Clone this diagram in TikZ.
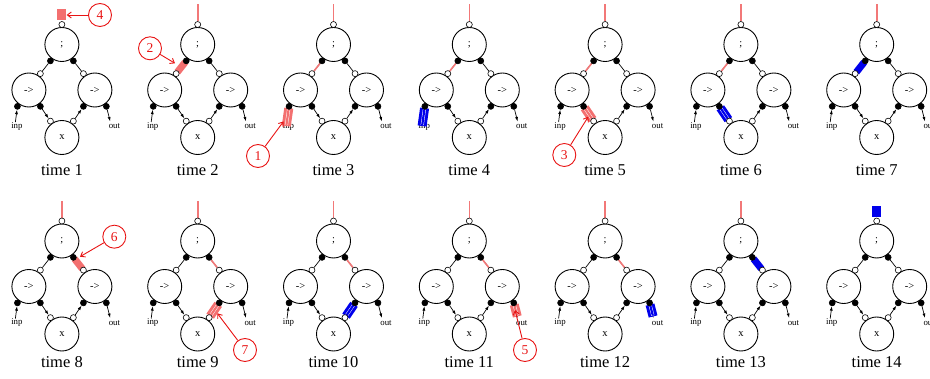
\documentclass[tikz,border=0pt]{standalone}
\usepackage{fontspec}
\setmainfont{Liberation Serif}
\usetikzlibrary{arrows.meta,calc}
\pgfdeclarelayer{front}
\pgfsetlayers{main,front}
\definecolor{tokred}{RGB}{243,112,112}
\definecolor{edgered}{RGB}{242,120,120}
\definecolor{callred}{RGB}{232,20,20}
\definecolor{tokblue}{RGB}{0,0,235}
\newcommand\tokstripe[3]{%
  \draw[#1,line width=9pt,shorten <=-1.5pt,shorten >=-1.5pt] (#2) -- (#3);
  \draw[white,line width=0.45pt,double=#1,double distance=2.2pt,shorten <=-0.5pt,shorten >=-0.5pt] (#2) -- (#3);
}
\newcommand\timey{126}
\tikzset{
  bignode/.style={circle,draw,line width=0.9pt,minimum size=34pt,inner sep=0pt,font=\fontsize{10.5}{11}\selectfont},
  wport/.style={circle,draw,line width=0.6pt,fill=white,minimum size=6pt,inner sep=0pt},
  bport/.style={circle,draw,line width=0.6pt,fill=black,minimum size=6pt,inner sep=0pt},
  wire/.style={line width=0.7pt},
  arr/.style={line width=0.7pt,-{Latex[length=4.5pt,width=3pt]}},
  redwire/.style={edgered,line width=1.6pt},
  lab/.style={inner sep=0pt,font=\fontsize{8.8}{9}\selectfont},
  timelab/.style={inner sep=0pt,font=\fontsize{16.5}{18}\selectfont},
  plaintok/.style={line width=7pt,shorten <=-1.5pt,shorten >=-1.5pt},
  sqtok/.style={minimum width=9pt,minimum height=11pt,inner sep=0pt},
  callout/.style={circle,draw=callred,text=callred,line width=0.9pt,minimum size=23pt,inner sep=0pt,font=\fontsize{13.5}{14}\selectfont},
  callarrow/.style={callred,line width=0.9pt,-{Straight Barb[length=4pt,width=6pt]}},
  graph/.pic={
    \begin{pgfonlayer}{front}
    \node[bignode] (T) at (0,0) {;};
    \node[bignode] (L) at (-33,45.5) {->};
    \node[bignode] (R) at (33,45.5) {->};
    \node[bignode] (X) at (0,93) {x};
    \node[wport] (Tt) at (0,-20) {};
    \node[bport] (Tbl) at (-11.47,16.38) {};
    \node[bport] (Tbr) at (11.47,16.38) {};
    \node[wport] (Ltr) at (-21.53,29.12) {};
    \node[bport] (Lbl) at (-44.47,61.88) {};
    \node[bport] (Lbr) at (-21.53,61.88) {};
    \node[wport] (Rtl) at (21.53,29.12) {};
    \node[bport] (Rbl) at (21.53,61.88) {};
    \node[bport] (Rbr) at (44.47,61.88) {};
    \node[wport] (Xtl) at (-11.47,76.62) {};
    \node[wport] (Xtr) at (11.47,76.62) {};
    \end{pgfonlayer}
    \coordinate (top) at (0,-40);
    \coordinate (sqpos) at (0,-29.5);
    \coordinate (inpst) at (-46.5,77.5);
    \coordinate (inptok) at (-47,80);
    \coordinate (outend) at (48.3,77);
    \coordinate (outtok) at (47.6,74);
    \node[lab] (inp) at (-45,82) {inp};
    \node[lab] (out) at (52.5,82) {out};
    \draw[wire] (Tbl) -- (Ltr);
    \draw[wire] (Tbr) -- (Rtl);
    \draw[arr] (Lbr) -- (Xtl);
    \draw[arr] (Xtr) -- (Rbl);
    \draw[arr] (inpst) -- (Lbl);
    \draw[arr] (Rbr) -- (outend);
    \node[timelab] (time) at (0,\timey) {time #1};
  }
}
\begin{document}
\begin{tikzpicture}[x=1pt,y=-1pt]
\useasboundingbox (0,0) rectangle (930,379);
% panels
\pic (p1) at (61.9,44.5) {graph=1};
\pic (p2) at (197.7,44.5) {graph=2};
\pic (p3) at (333.5,44.5) {graph=3};
\pic (p4) at (469.3,44.5) {graph=4};
\pic (p5) at (605.1,44.5) {graph=5};
\pic (p6) at (740.9,44.5) {graph=6};
\pic (p7) at (876.7,44.5) {graph=7};
\renewcommand\timey{121}
\pic (p8) at (61.9,241) {graph=8};
\pic (p9) at (197.7,241) {graph=9};
\pic (p10) at (333.5,241) {graph=10};
\pic (p11) at (469.3,241) {graph=11};
\pic (p12) at (605.1,241) {graph=12};
\pic (p13) at (740.9,241) {graph=13};
\pic (p14) at (876.7,241) {graph=14};
% traversed wires
\foreach \k in {2,...,13} {\draw[redwire] (p\k top) -- (p\k Tt);}
\foreach \k in {3,...,7} {\draw[redwire] (p\k Tbl) -- (p\k Ltr);}
\foreach \k in {9,...,13} {\draw[redwire] (p\k Tbr) -- (p\k Rtl);}
% tokens
\node[sqtok,fill=tokred] (sq1) at (p1sqpos) {};
\draw[tokred,plaintok] (p2Tbl) -- (p2Ltr);
\tokstripe{tokred}{p3inptok}{p3Lbl}
\tokstripe{tokblue}{p4inptok}{p4Lbl}
\tokstripe{tokred}{p5Lbr}{p5Xtl}
\tokstripe{tokblue}{p6Lbr}{p6Xtl}
\draw[tokblue,plaintok] (p7Tbl) -- (p7Ltr);
\draw[tokred,plaintok] (p8Tbr) -- (p8Rtl);
\tokstripe{tokred}{p9Rbl}{p9Xtr}
\tokstripe{tokblue}{p10Rbl}{p10Xtr}
\tokstripe{tokred}{p11outtok}{p11Rbr}
\tokstripe{tokblue}{p12outtok}{p12Rbr}
\draw[tokblue,plaintok] (p13Tbr) -- (p13Rtl);
\node[sqtok,fill=tokblue] (sq14) at (p14sqpos) {};
% callouts
\node[callout] (c4) at (100,15) {4};
\node[callout] (c2) at (150,48.3) {2};
\node[callout] (c1) at (258,156) {1};
\node[callout] (c3) at (564.3,155) {3};
\node[callout] (c6) at (114.3,236.7) {6};
\node[callout] (c7) at (245,350) {7};
\node[callout] (c5) at (525,350) {5};
\coordinate (t2) at (175,63.3);
\coordinate (t1) at (283.5,121.5);
\coordinate (t3) at (588.3,116.7);
\coordinate (t6) at (80,256.7);
\coordinate (t7) at (217.3,313.3);
\coordinate (t5) at (515,310);
\draw[callarrow] (c4) -- (sq1.east);
\draw[callarrow] (c2) -- (t2);
\draw[callarrow] (c1) -- (t1);
\draw[callarrow] (c3) -- (t3);
\draw[callarrow] (c6) -- (t6);
\draw[callarrow] (c7) -- (t7);
\draw[callarrow] (c5) -- (t5);
\end{tikzpicture}
\end{document}
